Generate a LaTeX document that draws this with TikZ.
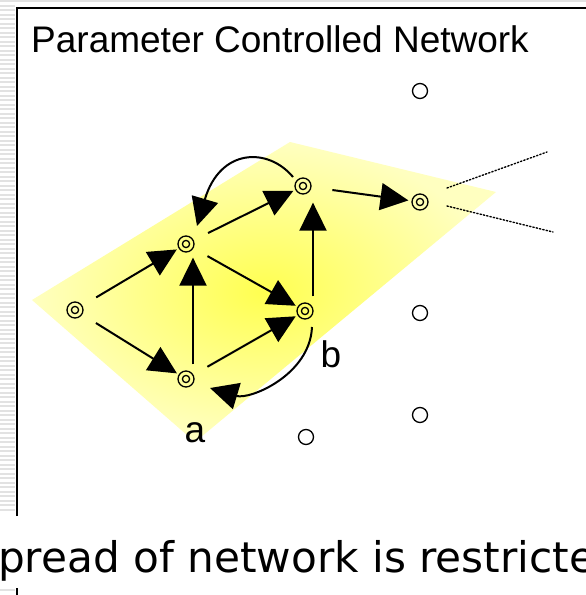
\documentclass[tikz,border=0pt]{standalone}
\usepackage{fontspec}
\setmainfont{Liberation Sans}
\newfontfamily\verdanaish{DejaVu Sans}
\usetikzlibrary{arrows.meta}
\definecolor{stripegray}{HTML}{E2E2E2}
\definecolor{palefill}{HTML}{FFFFC0}
\definecolor{brightfill}{HTML}{FFFF50}
\begin{document}
\begin{tikzpicture}[x=1pt,y=-1pt,
  dnode/.style={circle,draw,line width=1.3pt,minimum size=16pt,inner sep=0pt,
    path picture={\draw[line width=1.3pt] (path picture bounding box.center) circle (3.6pt);}},
  pnode/.style={circle,draw,line width=1.3pt,minimum size=15pt,inner sep=0pt},
  arr/.style={line width=2pt,-{Triangle[length=28pt,width=27pt]}},
  edge/.style={arr,shorten <=16pt,shorten >=2pt},
  dotline/.style={line width=1.4pt,dotted,line cap=round},
  lbl/.style={font=\fontsize{37}{40}\selectfont,inner sep=0pt}]
\clip (0,0) rectangle (586,595);
\fill[white] (0,0) rectangle (586,595);
% striped margin
\foreach \y in {0,4.5,...,512} {\fill[stripegray] (0,\y) rectangle (15,\y+2.2);}
\fill[stripegray] (0,589) rectangle (15,591.2);
\fill[stripegray] (0,0) rectangle (586,2.2);
% frame
\draw[line width=2pt] (16.5,516) -- (16.5,8.3) -- (590,8.3);
\draw[line width=2pt] (16.5,588) -- (16.5,600);
% yellow plane
\shade[inner color=brightfill,outer color=palefill] (32,300) -- (290,142) -- (496,192) -- (195,442) -- cycle;
% title
\node[lbl,anchor=base west] (title) at (31,52) {Parameter Controlled Network};
% nodes
\node[dnode] (n0) at (75,310) {};
\node[dnode] (n1) at (186,244) {};
\node[dnode] (n2) at (186,379) {};
\node[dnode] (n3) at (303,186) {};
\node[dnode] (n4) at (305,311) {};
\node[dnode] (n5) at (420,202) {};
\node[pnode] (p1) at (420,91) {};
\node[pnode] (p2) at (420,313) {};
\node[pnode] (p3) at (420,415) {};
\node[pnode] (p4) at (306,437) {};
% labels
\node[lbl] (la) at (195,433) {a};
\node[lbl] (lb) at (331,354) {b};
% edges
\draw[edge] (n0) -- (n1);
\draw[edge] (n0) -- (n2);
\draw[arr,shorten <=6pt,shorten >=5pt] ([xshift=7pt]n2.north) -- ([xshift=7pt]n1.south);
\draw[edge] (n1) -- (n3);
\draw[edge] (n1) -- (n4);
\draw[edge] (n2) -- (n4);
\draw[arr,shorten <=6pt,shorten >=8pt] ([xshift=8pt]n4.north) -- ([xshift=10pt]n3.south);
\draw[edge,shorten <=21pt,shorten >=3pt] (n3) -- (n5);
\draw[arr] ([shift={(-10,-9)}]n3.center) .. controls +(-25,-30) and +(23,-78) .. ([shift={(11,-18)}]n1.center);
\draw[arr] ([shift={(7,16)}]n4.center) .. controls +(-2,48) and +(40,12) .. ([shift={(24,9)}]n2.center);
% dotted fan
\coordinate (u1) at (547,152);
\coordinate (u2) at (553,232);
\draw[dotline] ([shift={(27,-14)}]n5.center) -- (u1);
\draw[dotline] ([shift={(27,4)}]n5.center) -- (u2);
% bottom text
\node[font=\verdanaish\fontsize{42.2}{46}\selectfont,anchor=base west,inner sep=0pt] (caption) at (-2,572) {pread of network is restricte};
\end{tikzpicture}
\end{document}
